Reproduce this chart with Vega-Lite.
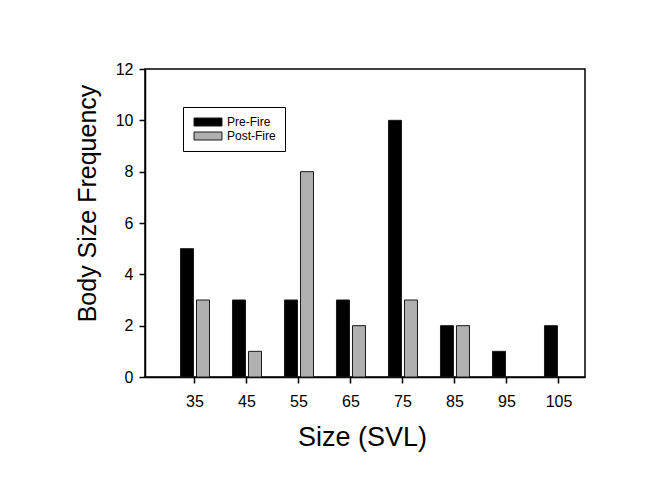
{
  "$schema": "https://vega.github.io/schema/vega-lite/v6.json",
  "width": 440,
  "height": 308,
  "autosize": {"type": "none"},
  "padding": {"left": 145, "top": 69, "right": 77, "bottom": 116},
  "background": "white",
  "config": {
    "font": "Liberation Sans",
    "view": {"stroke": "black", "strokeWidth": 1.5}
  },
  "data": {
    "values": [
      {"size": 35, "period": "Pre-Fire", "count": 5},
      {"size": 35, "period": "Post-Fire", "count": 3},
      {"size": 45, "period": "Pre-Fire", "count": 3},
      {"size": 45, "period": "Post-Fire", "count": 1},
      {"size": 55, "period": "Pre-Fire", "count": 3},
      {"size": 55, "period": "Post-Fire", "count": 8},
      {"size": 65, "period": "Pre-Fire", "count": 3},
      {"size": 65, "period": "Post-Fire", "count": 2},
      {"size": 75, "period": "Pre-Fire", "count": 10},
      {"size": 75, "period": "Post-Fire", "count": 3},
      {"size": 85, "period": "Pre-Fire", "count": 2},
      {"size": 85, "period": "Post-Fire", "count": 2},
      {"size": 95, "period": "Pre-Fire", "count": 1},
      {"size": 105, "period": "Pre-Fire", "count": 2}
    ]
  },
  "mark": {"type": "bar", "stroke": "#1a1a1a", "strokeWidth": 1},
  "encoding": {
    "x": {
      "field": "size",
      "type": "ordinal",
      "scale": {"paddingInner": 0.442, "paddingOuter": 0.452, "align": 0.755},
      "axis": {
        "title": "Size (SVL)",
        "labelAngle": 0,
        "labelFontSize": 16,
        "labelColor": "black",
        "labelPadding": 10,
        "tickColor": "black",
        "tickSize": 6,
        "tickWidth": 1.5,
        "domainColor": "black",
        "domainWidth": 1.5,
        "titleFontSize": 27,
        "titleFontWeight": "normal",
        "titleColor": "black",
        "titleX": 217,
        "titleY": 68,
        "titleBaseline": "alphabetic"
      }
    },
    "y": {
      "field": "count",
      "type": "quantitative",
      "scale": {"domain": [0, 12]},
      "axis": {
        "values": [0, 2, 4, 6, 8, 10, 12],
        "grid": false,
        "title": "Body Size Frequency",
        "labelFontSize": 16,
        "labelColor": "black",
        "labelPadding": 6,
        "tickColor": "black",
        "tickSize": 6,
        "tickWidth": 1.5,
        "domainColor": "black",
        "domainWidth": 1.5,
        "titleFontSize": 25,
        "titleFontWeight": "normal",
        "titleColor": "black",
        "titleAngle": -90,
        "titleX": -50,
        "titleY": 134,
        "titleBaseline": "alphabetic"
      }
    },
    "xOffset": {
      "field": "period",
      "type": "nominal",
      "sort": ["Pre-Fire", "Post-Fire"],
      "scale": {"paddingInner": 0.1875, "paddingOuter": 0}
    },
    "color": {
      "field": "period",
      "type": "nominal",
      "sort": ["Pre-Fire", "Post-Fire"],
      "scale": {"domain": ["Pre-Fire", "Post-Fire"], "range": ["#000000", "#b0b0b0"]},
      "legend": {
        "title": null,
        "orient": "none",
        "legendX": 38,
        "legendY": 38,
        "strokeColor": "black",
        "fillColor": "white",
        "padding": 9,
        "symbolType": "M-1,-1H6V1H-1Z",
        "symbolSize": 64,
        "symbolStrokeColor": "#1a1a1a",
        "symbolStrokeWidth": 1,
        "symbolOpacity": 1,
        "labelFontSize": 12,
        "labelColor": "black",
        "labelOffset": 23,
        "rowPadding": 2
      }
    }
  }
}
